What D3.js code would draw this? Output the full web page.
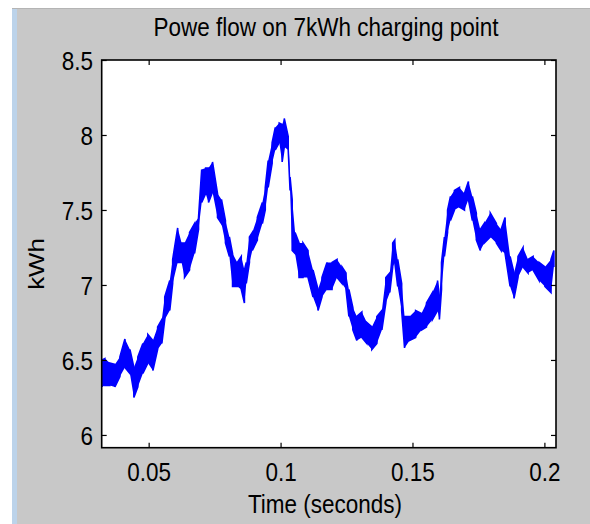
<!DOCTYPE html>
<html>
<head>
<meta charset="utf-8">
<script src="https://cdn.jsdelivr.net/npm/d3@7"></script>
<style>
  html, body { margin: 0; padding: 0; background: #ffffff; }
  svg { display: block; }
  text { font-family: "Liberation Sans", Arial, sans-serif; fill: #000; }
</style>
</head>
<body>
<svg id="chart" width="590" height="524"></svg>
<script>
// ---- data ----
const titleText = "Powe flow on 7kWh charging point";
const xLabelText = "Time (seconds)";
const yLabelText = "kWh";
const xTicks = [0.05, 0.1, 0.15, 0.2];
const yTicks = [6, 6.5, 7, 7.5, 8, 8.5];
const xDomain = [0.0322, 0.2044];
const yDomain = [5.915, 8.5];

const timeSec = [
  0.0323,0.0334,0.0353,0.0372,0.0391,0.0410,0.0429,0.0444,0.0459,0.0478,
  0.0497,0.0516,0.0534,0.0550,0.0561,0.0580,0.0591,0.0610,0.0625,0.0636,
  0.0655,0.0674,0.0689,0.0701,0.0716,0.0727,0.0742,0.0761,0.0776,0.0791,
  0.0806,0.0818,0.0836,0.0851,0.0863,0.0870,0.0882,0.0893,0.0912,0.0931,
  0.0942,0.0953,0.0968,0.0980,0.0995,0.1006,0.1014,0.1029,0.1036,0.1044,
  0.1055,0.1070,0.1085,0.1104,0.1123,0.1142,0.1157,0.1176,0.1195,0.1214,
  0.1233,0.1248,0.1259,0.1274,0.1289,0.1308,0.1327,0.1346,0.1365,0.1384,
  0.1399,0.1414,0.1425,0.1433,0.1444,0.1459,0.1470,0.1489,0.1512,0.1534,
  0.1553,0.1576,0.1595,0.1602,0.1610,0.1621,0.1633,0.1644,0.1659,0.1678,
  0.1697,0.1712,0.1727,0.1742,0.1757,0.1772,0.1795,0.1818,0.1836,0.1851,
  0.1870,0.1885,0.1900,0.1919,0.1938,0.1957,0.1980,0.2002,0.2025,0.2036
];
const upperKWh = [
  6.50,6.51,6.48,6.47,6.52,6.64,6.57,6.45,6.52,6.61,
  6.67,6.63,6.72,6.77,6.92,7.03,7.17,7.38,7.28,7.28,
  7.35,7.41,7.45,7.77,7.78,7.78,7.82,7.61,7.57,7.43,
  7.32,7.21,7.15,7.19,7.10,7.15,7.32,7.35,7.45,7.55,
  7.65,7.83,7.95,8.05,8.08,8.07,8.11,7.99,7.72,7.57,
  7.35,7.28,7.28,7.23,7.10,6.97,7.05,7.15,7.15,7.17,
  7.12,7.08,6.97,6.85,6.79,6.82,6.75,6.72,6.79,6.83,
  7.05,7.08,7.28,7.30,7.17,7.01,6.79,6.79,6.83,6.81,
  6.88,6.95,7.03,6.92,7.15,7.32,7.50,7.59,7.63,7.65,
  7.61,7.69,7.59,7.48,7.37,7.41,7.48,7.41,7.37,7.45,
  7.19,7.08,7.19,7.25,7.17,7.19,7.15,7.12,7.17,7.23
];
const lowerKWh = [
  6.32,6.33,6.33,6.32,6.39,6.45,6.41,6.25,6.32,6.41,
  6.48,6.43,6.57,6.61,6.77,6.83,7.01,7.15,7.15,7.05,
  7.10,7.21,7.37,7.55,7.61,7.55,7.62,7.45,7.41,7.28,
  7.19,6.99,6.99,6.97,6.88,7.01,7.15,7.23,7.30,7.41,
  7.50,7.65,7.81,7.90,7.95,7.82,7.92,7.90,7.63,7.23,
  7.21,7.05,7.05,7.05,6.92,6.83,6.92,6.97,6.97,7.05,
  7.01,6.97,6.79,6.70,6.63,6.65,6.61,6.57,6.61,6.70,
  6.88,6.95,7.12,7.15,6.99,6.83,6.58,6.63,6.65,6.70,
  6.72,6.77,6.83,6.77,6.97,7.19,7.35,7.43,7.50,7.52,
  7.50,7.57,7.43,7.30,7.23,7.28,7.32,7.28,7.23,7.21,
  6.99,6.91,7.05,7.12,7.08,7.10,7.03,6.99,6.95,7.12
];

// ---- layout ----
const W = 590, H = 524;
const plot = { left: 101.7, right: 556, top: 60, bottom: 447.7 };
const FS = 22.5, VS = 1.15;

const svg = d3.select("#chart");

// window frame
svg.append("rect").attr("x", 0).attr("y", 0).attr("width", W).attr("height", H).attr("fill", "#ffffff");
svg.append("rect").attr("x", 12).attr("y", 8).attr("width", 6).attr("height", H - 8).attr("fill", "#bcd3ea");
svg.append("rect").attr("x", 17).attr("y", 8).attr("width", W - 17).attr("height", H - 8).attr("fill", "#c8c8c8");
svg.append("line").attr("x1", 12).attr("x2", W).attr("y1", 8.5).attr("y2", 8.5).attr("stroke", "#b4b4b4").attr("stroke-width", 1);

// plot area
svg.append("rect")
  .attr("x", plot.left).attr("y", plot.top)
  .attr("width", plot.right - plot.left).attr("height", plot.bottom - plot.top)
  .attr("fill", "#ffffff");

const x = d3.scaleLinear().domain(xDomain).range([plot.left, plot.right]);
const y = d3.scaleLinear().domain(yDomain).range([plot.bottom, plot.top]);

// data
const samples = timeSec.map((t, i) => ({ t, hi: upperKWh[i], lo: lowerKWh[i] }));
const ladder = [];
samples.forEach((s, i) => {
  if (i % 2 === 0) { ladder.push({ t: s.t, v: s.lo }); ladder.push({ t: s.t, v: s.hi }); }
  else { ladder.push({ t: s.t, v: s.hi }); ladder.push({ t: s.t, v: s.lo }); }
});

svg.append("clipPath").attr("id", "clip").append("rect")
  .attr("x", plot.left).attr("y", plot.top)
  .attr("width", plot.right - plot.left).attr("height", plot.bottom - plot.top);

const g = svg.append("g").attr("clip-path", "url(#clip)");
g.append("path")
  .datum(samples)
  .attr("d", d3.area().x(d => x(d.t)).y0(d => y(d.lo)).y1(d => y(d.hi)))
  .attr("fill", "#0000ff");
g.append("path")
  .datum(ladder)
  .attr("d", d3.line().x(d => x(d.t)).y(d => y(d.v)))
  .attr("fill", "none").attr("stroke", "#0000ff").attr("stroke-width", 1.6);

// axes (ticks inside on all four sides)
const tickLen = 5;
function styleAxis(sel) {
  sel.select(".domain").remove();
  sel.selectAll(".tick line").attr("stroke", "#000").attr("stroke-width", 1.2);
}
const axB = svg.append("g").attr("transform", `translate(0,${plot.bottom})`)
  .call(d3.axisBottom(x).tickValues(xTicks).tickSize(-tickLen).tickFormat(d3.format("")));
styleAxis(axB);
axB.selectAll(".tick text")
  .attr("y", 0).attr("dy", 0)
  .attr("transform", `translate(0,33.3) scale(1,${VS})`)
  .style("font-size", FS + "px").style("font-family", "Liberation Sans, Arial, sans-serif").attr("fill", "#000");

const axT = svg.append("g").attr("transform", `translate(0,${plot.top})`)
  .call(d3.axisTop(x).tickValues(xTicks).tickSize(-tickLen).tickFormat(""));
styleAxis(axT);

const axL = svg.append("g").attr("transform", `translate(${plot.left},0)`)
  .call(d3.axisLeft(y).tickValues(yTicks).tickSize(-tickLen).tickFormat(d3.format("")));
styleAxis(axL);
axL.selectAll(".tick text")
  .attr("x", 0).attr("dy", 0).attr("text-anchor", "end")
  .attr("transform", `translate(-8.7,${0.36 * FS * VS}) scale(1,${VS})`)
  .style("font-size", FS + "px").style("font-family", "Liberation Sans, Arial, sans-serif").attr("fill", "#000");

const axR = svg.append("g").attr("transform", `translate(${plot.right},0)`)
  .call(d3.axisRight(y).tickValues(yTicks).tickSize(-tickLen).tickFormat(""));
styleAxis(axR);

// box
svg.append("rect")
  .attr("x", plot.left).attr("y", plot.top)
  .attr("width", plot.right - plot.left).attr("height", plot.bottom - plot.top)
  .attr("fill", "none").attr("stroke", "#000").attr("stroke-width", 1.6);

// texts
svg.append("text")
  .attr("text-anchor", "middle")
  .attr("transform", `translate(326,36) scale(1,${VS})`)
  .style("font-size", FS + "px")
  .text(titleText);

svg.append("text")
  .attr("text-anchor", "middle")
  .attr("transform", `translate(325,513) scale(1,${VS})`)
  .style("font-size", FS + "px")
  .text(xLabelText);

svg.append("text")
  .attr("text-anchor", "middle")
  .attr("transform", `translate(44,264) scale(${1},${VS}) rotate(-90)`)
  .style("font-size", FS + "px")
  .text(yLabelText);
</script>
</body>
</html>
